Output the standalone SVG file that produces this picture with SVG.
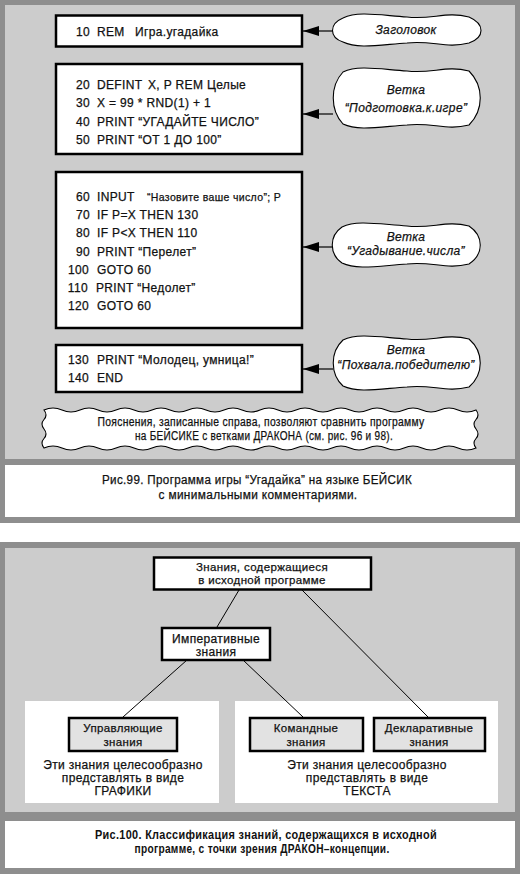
<svg xmlns="http://www.w3.org/2000/svg" width="520" height="874" viewBox="0 0 520 874">
<style>
text{font-family:"Liberation Sans",Arial,sans-serif;fill:#111;stroke:#111;stroke-width:0.25;letter-spacing:0.35px;}
.code{font-size:12px;}
.num{text-anchor:end;}
.cl{font-size:12px;font-style:italic;text-anchor:middle;}
.mid{text-anchor:middle;font-size:12px;}
.sm{font-size:11.5px;}
.cap{text-anchor:middle;font-size:12px;}
.capb{text-anchor:middle;font-size:12px;font-weight:bold;stroke-width:0;}
.box{fill:#fff;stroke:#000;stroke-width:2.5;}
.gbox{fill:#e2e2e2;stroke:#000;stroke-width:2.5;}
.cloud{fill:#fff;stroke:#000;stroke-width:1.1;}
.conn{stroke:#000;stroke-width:1.2;fill:none;}
.tree{stroke:#000;stroke-width:1;fill:none;}
</style>
<defs>
<marker id="ah" markerUnits="userSpaceOnUse" markerWidth="16" markerHeight="10" refX="16" refY="5" orient="auto">
<path d="M0,0 L16,5 L0,10 Z" fill="#000"/>
</marker>
</defs>

<!-- Panel 1 background -->
<rect x="0" y="0" width="520" height="523" fill="#8e8e8e"/>
<rect x="5" y="5" width="510" height="454" fill="#cccccc"/>
<rect x="5" y="465" width="510" height="52" fill="#ffffff"/>

<!-- Panel 2 background -->
<rect x="0" y="542" width="520" height="332" fill="#8e8e8e"/>
<rect x="5" y="548" width="510" height="264" fill="#cccccc"/>
<rect x="5" y="821" width="510" height="47" fill="#ffffff"/>
<rect x="25" y="701" width="194" height="102" fill="#ffffff"/>
<rect x="235" y="701" width="263" height="102" fill="#ffffff"/>

<!-- connectors -->
<g id="connectors">
<line class="conn" x1="333" y1="31" x2="303" y2="31" marker-end="url(#ah)"/>
<line class="conn" x1="333" y1="114" x2="303" y2="114" marker-end="url(#ah)"/>
<line class="conn" x1="332" y1="247" x2="303" y2="247" marker-end="url(#ah)"/>
<line class="conn" x1="333" y1="369" x2="303" y2="369" marker-end="url(#ah)"/>
<line class="tree" x1="239" y1="590" x2="217" y2="627"/>
<line class="tree" x1="302" y1="590" x2="428" y2="717"/>
<line class="tree" x1="187" y1="660" x2="123" y2="717"/>
<line class="tree" x1="243" y1="660" x2="303" y2="717"/>
</g>

<!-- Code boxes -->
<g id="box1">
<rect class="box" x="56" y="15.5" width="246" height="31"/>
<text class="code num" x="90" y="36">10</text>
<text class="code" x="97" y="36">REM<tspan x="135">Игра.угадайка</tspan></text>
</g>

<g id="box2">
<rect class="box" x="56" y="64" width="246" height="90"/>
<text class="code num" x="90" y="89">20</text>
<text class="code" x="97" y="89">DEFINT<tspan x="148">X, P REM Целые</tspan></text>
<text class="code num" x="90" y="107">30</text>
<text class="code" x="97" y="107">X = 99 * RND(1) + 1</text>
<text class="code num" x="90" y="126">40</text>
<text class="code" x="97" y="126">PRINT “УГАДАЙТЕ ЧИСЛО”</text>
<text class="code num" x="90" y="144">50</text>
<text class="code" x="97" y="144">PRINT “ОТ 1 ДО 100”</text>
</g>

<g id="box3">
<rect class="box" x="56" y="172" width="246" height="156"/>
<text class="code num" x="90" y="201">60</text>
<text class="code" x="97" y="201">INPUT<tspan x="147" font-size="10.5">“Назовите ваше число”; P</tspan></text>
<text class="code num" x="90" y="219">70</text>
<text class="code" x="97" y="219">IF P=X THEN 130</text>
<text class="code num" x="90" y="237">80</text>
<text class="code" x="97" y="237">IF P&lt;X THEN 110</text>
<text class="code num" x="90" y="256">90</text>
<text class="code" x="97" y="256">PRINT “Перелет”</text>
<text class="code num" x="89" y="274">100</text>
<text class="code" x="97" y="274">GOTO 60</text>
<text class="code num" x="88" y="292">110</text>
<text class="code" x="96" y="292">PRINT “Недолет”</text>
<text class="code num" x="89" y="310">120</text>
<text class="code" x="97" y="310">GOTO 60</text>
</g>

<g id="box4">
<rect class="box" x="56" y="345" width="246" height="47"/>
<text class="code num" x="89" y="364">130</text>
<text class="code" x="97" y="364">PRINT “Молодец, умница!”</text>
<text class="code num" x="89" y="382">140</text>
<text class="code" x="97" y="382">END</text>
</g>

<!-- Clouds -->
<g id="cloud1">
<path class="cloud" d="M343,18 C358,11 378,15 407,17 C432,20 446,11 469,17 C485,24 485,37 469,43 C446,49 432,40 407,43 C378,45 358,49 343,42 C329,37 329,24 343,18 Z"/>
<text class="cl" x="406" y="34">Заголовок</text>
</g>
<g id="cloud2">
<path class="cloud" d="M343,72 C358,65 378,69 407,71 C432,74 446,65 469,71 C484,86 484,110 469,125 C446,131 432,122 407,125 C378,127 358,131 343,124 C330,110 330,86 343,72 Z"/>
<text class="cl" x="406" y="94">Ветка</text>
<text class="cl" x="406" y="112">“Подготовка.к.игре”</text>
</g>
<g id="cloud3">
<path class="cloud" d="M342,227 C357,220 377,224 407,226 C432,229 446,220 469,226 C484,236 484,254 469,264 C446,270 432,261 407,264 C377,266 357,270 342,263 C329,254 329,236 342,227 Z"/>
<text class="cl" x="406" y="241">Ветка</text>
<text class="cl" x="406" y="255">“Угадывание.числа”</text>
</g>
<g id="cloud4">
<path class="cloud" d="M343,340 C358,333 378,337 407,339 C432,342 446,333 469,339 C484,352 484,374 469,387 C446,393 432,384 407,387 C378,389 358,393 343,386 C330,374 330,352 343,340 Z"/>
<text class="cl" x="406" y="354">Ветка</text>
<text class="cl" x="406" y="369">“Похвала.победителю”</text>
</g>

<g id="note">
<path class="cloud" d="M44,410 q9,-4 18,0 t18,0 t18,0 t18,0 t18,0 t18,0 t18,0 t18,0 t18,0 t18,0 t18,0 t18,0 t18,0 t18,0 t18,0 t18,0 t18,0 t18,0 t18,0 t18,0 t18,0 t18,0 t18,0 t18,0 q4,5 0,9.5 t0,9.5 t0,9.5 t0,9.5 q-9,4 -18,0 t-18,0 t-18,0 t-18,0 t-18,0 t-18,0 t-18,0 t-18,0 t-18,0 t-18,0 t-18,0 t-18,0 t-18,0 t-18,0 t-18,0 t-18,0 t-18,0 t-18,0 t-18,0 t-18,0 t-18,0 t-18,0 t-18,0 t-18,0 q-4,-5 0,-9.5 t0,-9.5 t0,-9.5 t0,-9.5 Z"/>
<text class="mid" x="261" y="426" font-size="11" textLength="327" lengthAdjust="spacingAndGlyphs">Пояснения, записанные справа, позволяют сравнить программу</text>
<text class="mid" x="264" y="440" font-size="11" textLength="258" lengthAdjust="spacingAndGlyphs">на БЕЙСИКЕ с ветками ДРАКОНА (см. рис. 96 и 98).</text>
</g>

<g id="caption1">
<text class="cap" x="257" y="484" textLength="310" lengthAdjust="spacingAndGlyphs">Рис.99. Программа игры “Угадайка” на языке БЕЙСИК</text>
<text class="cap" x="258" y="499" textLength="199" lengthAdjust="spacingAndGlyphs">с минимальными комментариями.</text>
</g>

<!-- Tree nodes -->
<g id="n-root">
<rect class="box" x="154" y="557.5" width="217" height="32"/>
<text class="mid sm" x="262" y="571">Знания, содержащиеся</text>
<text class="mid sm" x="262" y="584">в исходной программе</text>
</g>
<g id="n-imp">
<rect class="box" x="162" y="628" width="108" height="32"/>
<text class="mid" x="216" y="643" font-size="11">Императивные</text>
<text class="mid" x="216" y="656" font-size="11">знания</text>
</g>
<g id="n-ctrl">
<rect class="gbox" x="69" y="718" width="108" height="33"/>
<text class="mid sm" x="123" y="732">Управляющие</text>
<text class="mid sm" x="123" y="746">знания</text>
</g>
<g id="n-cmd">
<rect class="gbox" x="250" y="718" width="113" height="33"/>
<text class="mid sm" x="306" y="732">Командные</text>
<text class="mid sm" x="306" y="746">знания</text>
</g>
<g id="n-decl">
<rect class="gbox" x="374" y="718" width="111" height="33"/>
<text class="mid sm" x="429" y="732">Декларативные</text>
<text class="mid sm" x="429" y="746">знания</text>
</g>

<g id="note-graphics">
<text class="mid" x="123" y="769">Эти знания целесообразно</text>
<text class="mid" x="123" y="782">представлять в виде</text>
<text class="mid" x="123" y="795">ГРАФИКИ</text>
</g>
<g id="note-text">
<text class="mid" x="367" y="769">Эти знания целесообразно</text>
<text class="mid" x="367" y="782">представлять в виде</text>
<text class="mid" x="367" y="795">ТЕКСТА</text>
</g>

<g id="caption2">
<text class="capb" x="266" y="839" textLength="342" lengthAdjust="spacingAndGlyphs">Рис.100. Классификация знаний, содержащихся в исходной</text>
<text class="capb" x="262" y="853" textLength="255" lengthAdjust="spacingAndGlyphs">программе, с точки зрения ДРАКОН–концепции.</text>
</g>
</svg>
